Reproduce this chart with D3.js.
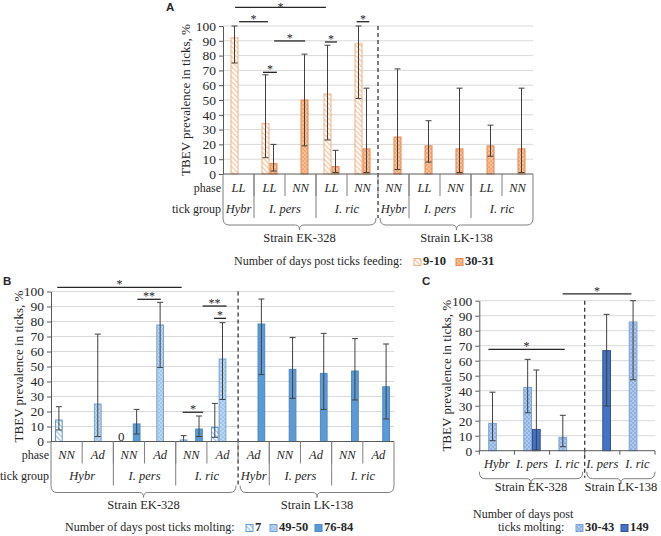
<!DOCTYPE html>
<html><head><meta charset="utf-8">
<script src="https://cdn.jsdelivr.net/npm/d3@7"></script>
<style>
body{margin:0;background:#fff}
svg{display:block}
text{font-family:"Liberation Serif","Times New Roman",Tinos,serif;fill:#262626}
</style>
</head><body>
<svg id="chart" width="661" height="536"></svg>
<script>
// ================= DATA =================
const yTicks = [0,10,20,30,40,50,60,70,80,90,100];
const yTitle = "TBEV prevalence in ticks, %";

// ---- Panel A ----
const aPhases = ["LL","LL","NN","LL","NN","NN","LL","NN","LL","NN"];
const aGroupNames = ["Hybr","I. pers","I. ric","Hybr","I. pers","I. ric"];
const aGroupSpans = [1,2,2,1,2,2];
const aStrainNames = ["Strain EK-328","Strain LK-138"];
const aStrainSpans = [5,5];
const aSeries = ["9-10","30-31"];
const aVal910 = [92,34,null,54,88,null,null,null,null,null];
const aLo910  = [75,11,null,23,51,null,null,null,null,null];
const aHi910  = [100,67,null,87,100,null,null,null,null,null];
const aVal3031 = [null,7,50,5,17,25,19,17,19,17];
const aLo3031  = [null,2,19,1,1,3,8,1,12,1];
const aHi3031  = [null,20,81,16,58,71,36,58,33,58];
const aLegendTitle = "Number of days post ticks feeding:";
// significance: [from column, to column, level, label]
const aSig = [[0.39,3.32,112.6,"*"],[0.52,1.45,102.9,"*"],[1.65,2.65,89.9,"*"],[1.29,1.74,68.7,"*"],[3.29,3.68,89.2,"*"],[4.31,4.72,102.9,"*"]];

// ---- Panel B ----
const bPhases = ["NN","Ad","NN","Ad","NN","Ad","Ad","NN","Ad","NN","Ad"];
const bGroupNames = ["Hybr","I. pers","I. ric","Hybr","I. pers","I. ric"];
const bGroupSpans = [2,2,2,1,2,2];
const bStrainNames = ["Strain EK-328","Strain LK-138"];
const bStrainSpans = [6,5];
const bSeries = ["7","49-50","76-84"];
const bVal7 = [14.3,null,0,null,1,9.4,null,null,null,null,null];
const bLo7  = [7.7,null,null,null,0,2.8,null,null,null,null,null];
const bHi7  = [23.2,null,null,null,3.9,25.4,null,null,null,null,null];
const bVal4950 = [null,25,null,77.7,null,55,null,null,null,null,null];
const bLo4950  = [null,3.3,null,49.4,null,28,null,null,null,null,null];
const bHi4950  = [null,71.6,null,92.8,null,79.2,null,null,null,null,null];
const bVal7684 = [null,null,11.7,null,8.3,null,78.3,48.1,45.4,47,36.5];
const bLo7684  = [null,null,5,null,3.3,null,44.6,28.8,21.4,27.7,15];
const bHi7684  = [null,null,21.4,null,17,null,95,69.4,72.1,68.6,65];
const bLegendTitle = "Number of days post ticks molting:";
const bSig = [[0.2,4.19,102.8,"*"],[2.77,3.52,94.8,"**"],[4.86,5.63,90.3,"**"],[5.23,5.61,82.1,"*"],[4.22,4.88,19.5,"*"]];

// ---- Panel C ----
const cGroupNames = ["Hybr","I. pers","I. ric","I. pers","I. ric"];
const cStrainNames = ["Strain EK-328","Strain LK-138"];
const cStrainSpans = [3,2];
const cSeries = ["30-43","149"];
const cVal3043 = [18.2,42.2,8.9,null,85.8];
const cLo3043  = [6.7,25.3,2.7,null,47.3];
const cHi3043  = [39,60.9,23.6,null,100];
const cVal149 = [null,14.2,null,66.7,null];
const cLo149  = [null,0.5,null,29.8,null];
const cHi149  = [null,53.8,null,90.9,null];
const cLegendTitle = ["Number of days post","ticks molting:"];
const cSig = [[0.26,2.43,67.6,"*"],[2.37,4.33,104.5,"*"]];

// ================= DRAWING =================
const svg = d3.select("#chart");
const defs = svg.append("defs");
function hatch(id, bg, line){
  const p = defs.append("pattern").attr("id",id).attr("patternUnits","userSpaceOnUse").attr("width",5).attr("height",5);
  p.append("rect").attr("width",5).attr("height",5).attr("fill",bg);
  p.append("path").attr("d","M-1,-1L6,6M-1,4L1,6M4,-1L6,1").attr("stroke",line).attr("stroke-width",1.3);
}
function dots(id, bg, dot){
  const p = defs.append("pattern").attr("id",id).attr("patternUnits","userSpaceOnUse").attr("width",4).attr("height",4);
  p.append("rect").attr("width",4).attr("height",4).attr("fill",bg);
  p.append("circle").attr("cx",1).attr("cy",1).attr("r",0.75).attr("fill",dot);
  p.append("circle").attr("cx",3).attr("cy",3).attr("r",0.75).attr("fill",dot);
}
hatch("hOr","#ffffff","#f8cbad");
dots("dOr","#f4a875","#fde4d2");
hatch("hBl","#ffffff","#a9c8ea");
dots("dBl","#a4c4e8","#e6effa");
dots("dBlC","#8fb2e2","#dfe9f7");

function brace(g, xa, xb, top){
  const cx = (xa+xb)/2, d = 7;
  g.append("path")
    .attr("d",`M${xa},${top} Q${xa},${top+d} ${xa+6},${top+d} L${cx-4},${top+d} Q${cx},${top+d} ${cx},${top+d+5} Q${cx},${top+d} ${cx+4},${top+d} L${xb-6},${top+d} Q${xb},${top+d} ${xb},${top}`)
    .attr("fill","none").attr("stroke","#7f7f7f").attr("stroke-width",1);
}

function drawPanel(P){
  const g = svg.append("g");
  const n = P.n;
  const x = d3.scaleBand().domain(d3.range(n)).range([P.x0,P.x1]).padding(0);
  const y = d3.scaleLinear().domain([0,100]).range([P.yBase,P.yTop]);
  const cw = x.bandwidth();
  const inner = d3.scaleBand().domain(P.series).range([-P.slot*P.series.length/2, P.slot*P.series.length/2]);
  g.selectAll("line.grid").data(yTicks.filter(t=>t>0)).join("line").attr("class","grid")
    .attr("x1",P.x0).attr("x2",P.x1).attr("y1",d=>y(d)).attr("y2",d=>y(d))
    .attr("stroke","#d9d9d9").attr("stroke-width",1);
  const ax = g.append("g").attr("transform",`translate(${P.x0},0)`)
    .call(d3.axisLeft(y).tickValues(yTicks).tickSize(4).tickSizeOuter(0).tickPadding(3));
  ax.select(".domain").attr("stroke","#595959");
  ax.selectAll(".tick line").attr("stroke","#595959");
  ax.selectAll(".tick text").attr("font-size",13.5).attr("fill","#262626");
  g.append("text").attr("transform",`translate(${P.titleX},${(P.yTop+P.yBase)/2}) rotate(-90)`)
    .attr("text-anchor","middle").attr("dominant-baseline","middle").attr("font-size",13).text(yTitle);
  P.series.forEach((s,si)=>{
    const vals = P.vals[si];
    const idx = d3.range(n).filter(i=>vals[i]!=null && vals[i]>0);
    g.selectAll(null).data(idx).join("rect")
      .attr("x",i=>x(i)+cw/2+inner(s)+0.5).attr("width",inner.bandwidth()-1)
      .attr("y",i=>y(vals[i])).attr("height",i=>y(0)-y(vals[i]))
      .attr("fill",P.fills[si]).attr("stroke",P.strokes[si]).attr("stroke-width",1);
    const zeros = d3.range(n).filter(i=>vals[i]===0);
    g.selectAll(null).data(zeros).join("text")
      .attr("x",i=>x(i)+cw/2+inner(s)+inner.bandwidth()/2).attr("y",y(0)-0.5)
      .attr("text-anchor","middle").attr("font-size",13).text("0");
  });
  P.series.forEach((s,si)=>{
    const lo = P.lo[si], hi = P.hi[si];
    const idx = d3.range(n).filter(i=>lo[i]!=null && hi[i]!=null);
    const eg = g.selectAll(null).data(idx).join("g")
      .attr("transform",i=>`translate(${x(i)+cw/2+inner(s)+inner.bandwidth()/2},0)`);
    eg.append("line").attr("y1",i=>y(lo[i])).attr("y2",i=>y(hi[i])).attr("stroke","#404040");
    eg.append("line").attr("x1",-3).attr("x2",3).attr("y1",i=>y(hi[i])).attr("y2",i=>y(hi[i])).attr("stroke","#404040");
    eg.append("line").attr("x1",-3).attr("x2",3).attr("y1",i=>y(lo[i])).attr("y2",i=>y(lo[i])).attr("stroke","#404040");
  });
  P.sig.forEach(([c1,c2,v,lab])=>{
    const xa = P.x0+c1*cw, xb = P.x0+c2*cw;
    g.append("line").attr("x1",xa).attr("x2",xb).attr("y1",y(v)).attr("y2",y(v)).attr("stroke","#262626").attr("stroke-width",1.3);
    g.append("text").attr("x",(xa+xb)/2).attr("y",Math.max(y(v)+1,11)).attr("text-anchor","middle").attr("font-size",12).text(lab);
  });
  const tb = y(0);
  const bottom = P.table ? tb+44 : tb+27;
  g.append("line").attr("x1",x(P.split)).attr("x2",x(P.split)).attr("y1",y(100)).attr("y2",bottom)
    .attr("stroke","#262626").attr("stroke-dasharray","4,3").attr("stroke-width",1.2);
  g.append("line").attr("x1",P.x0).attr("x2",P.x1).attr("y1",tb).attr("y2",tb).attr("stroke","#595959");
  if(P.table){
    g.selectAll(null).data(P.phases).join("text")
      .attr("x",(d,i)=>x(i)+cw/2).attr("y",tb+15).attr("text-anchor","middle").attr("dominant-baseline","middle")
      .attr("font-size",12.5).style("font-style","italic").text(d=>d);
    d3.range(1,n).forEach(i=>{
      g.append("line").attr("x1",x(i)).attr("x2",x(i)).attr("y1",tb).attr("y2",tb+22).attr("stroke","#7f7f7f");
    });
    let cum = 0; const bounds=[0];
    P.groupSpans.forEach((sp,gi)=>{
      const xa = P.x0+cum*cw, xb = P.x0+(cum+sp)*cw;
      g.append("text").attr("x",(xa+xb)/2).attr("y",tb+36).attr("text-anchor","middle").attr("dominant-baseline","middle")
        .attr("font-size",12.5).style("font-style","italic").text(P.groupNames[gi]);
      cum += sp; bounds.push(cum);
    });
    bounds.forEach(b=>{
      if(b===P.split) return;
      g.append("line").attr("x1",P.x0+b*cw).attr("x2",P.x0+b*cw).attr("y1",tb).attr("y2",tb+44).attr("stroke","#7f7f7f");
    });
    g.append("text").attr("x",P.x0-2).attr("y",tb+15).attr("text-anchor","end").attr("dominant-baseline","middle").attr("font-size",12).text("phase");
    g.append("text").attr("x",P.x0-2).attr("y",tb+36).attr("text-anchor","end").attr("dominant-baseline","middle").attr("font-size",12).text("tick group");
  } else {
    d3.range(0,n+1).forEach(i=>{
      const xx = P.x0+i*cw;
      g.append("line").attr("x1",xx).attr("x2",xx).attr("y1",tb).attr("y2",tb+4).attr("stroke","#595959");
    });
    g.selectAll(null).data(P.groupNames).join("text")
      .attr("x",(d,i)=>x(i)+cw/2).attr("y",tb+14.5).attr("text-anchor","middle").attr("dominant-baseline","middle")
      .attr("font-size",12.5).style("font-style","italic").text(d=>d);
  }
  const bTop = P.table ? tb+44 : tb+21;
  const sY = P.table ? tb+65 : tb+37.5;
  let cum = 0;
  P.strainSpans.forEach((sp,si)=>{
    const xa = P.x0+cum*cw + (cum===0?0:2), xb = P.x0+(cum+sp)*cw - (cum+sp===n?0:2);
    brace(g, xa, xb, bTop);
    g.append("text").attr("x",(xa+xb)/2).attr("y",sY).attr("text-anchor","middle").attr("dominant-baseline","middle")
      .attr("font-size",12.5).text(P.strainNames[si]);
    cum += sp;
  });
  svg.append("text").attr("x",P.letterX).attr("y",P.letterY)
    .attr("font-weight","bold").attr("font-size",11.5).style("font-family","'Liberation Sans', Arial, sans-serif").text(P.letter);
}

function legendItem(xm, yc, fill, stroke, label){
  svg.append("rect").attr("x",xm).attr("y",yc-3.5).attr("width",7).attr("height",7).attr("fill",fill).attr("stroke",stroke);
  svg.append("text").attr("x",xm+9).attr("y",yc).attr("dominant-baseline","middle").attr("font-size",12.5).attr("font-weight","bold").text(label);
}

// Panel A
drawPanel({n:10, x0:223, x1:533, yBase:174, yTop:26, slot:8, split:5, table:true, titleX:187,
  series:aSeries, vals:[aVal910,aVal3031], lo:[aLo910,aLo3031], hi:[aHi910,aHi3031],
  fills:["url(#hOr)","url(#dOr)"], strokes:["#f4b183","#e4894f"],
  phases:aPhases, groupNames:aGroupNames, groupSpans:aGroupSpans, strainNames:aStrainNames, strainSpans:aStrainSpans,
  sig:aSig, letter:"A", letterX:166, letterY:11});
svg.append("text").attr("x",234).attr("y",262).attr("dominant-baseline","middle").attr("font-size",12).text(aLegendTitle);
legendItem(414,262,"url(#hOr)","#f4b183",aSeries[0]);
legendItem(456,262,"url(#dOr)","#e4894f",aSeries[1]);

// Panel B
drawPanel({n:11, x0:51, x1:394, yBase:441.5, yTop:291.5, slot:7.7, split:6, table:true, titleX:20,
  series:bSeries, vals:[bVal7,bVal4950,bVal7684], lo:[bLo7,bLo4950,bLo7684], hi:[bHi7,bHi4950,bHi7684],
  fills:["url(#hBl)","url(#dBl)","#5b9bd5"], strokes:["#5b9bd5","#6fa3d8","#4a88c9"],
  phases:bPhases, groupNames:bGroupNames, groupSpans:bGroupSpans, strainNames:bStrainNames, strainSpans:bStrainSpans,
  sig:bSig, letter:"B", letterX:3, letterY:285});
svg.append("text").attr("x",65).attr("y",528).attr("dominant-baseline","middle").attr("font-size",12).text(bLegendTitle);
legendItem(246,528,"url(#hBl)","#5b9bd5",bSeries[0]);
legendItem(270,528,"url(#dBl)","#6fa3d8",bSeries[1]);
legendItem(315,528,"#5b9bd5","#4a88c9",bSeries[2]);

// Panel C
drawPanel({n:5, x0:479.3, x1:655, yBase:450.7, yTop:300.7, slot:8.7, split:3, table:false, titleX:448,
  series:cSeries, vals:[cVal3043,cVal149], lo:[cLo3043,cLo149], hi:[cHi3043,cHi149],
  fills:["url(#dBlC)","#4472c4"], strokes:["#7aa3dc","#2f5597"],
  groupNames:cGroupNames, strainNames:cStrainNames, strainSpans:cStrainSpans,
  sig:cSig, letter:"C", letterX:422, letterY:285});
svg.append("text").attr("x",473).attr("y",515).attr("dominant-baseline","middle").attr("font-size",12).text(cLegendTitle[0]);
svg.append("text").attr("x",498).attr("y",528).attr("dominant-baseline","middle").attr("font-size",12).text(cLegendTitle[1]);
legendItem(576,528,"url(#dBlC)","#7aa3dc",cSeries[0]);
legendItem(621,528,"#4472c4","#2f5597",cSeries[1]);
</script>
</body></html>
